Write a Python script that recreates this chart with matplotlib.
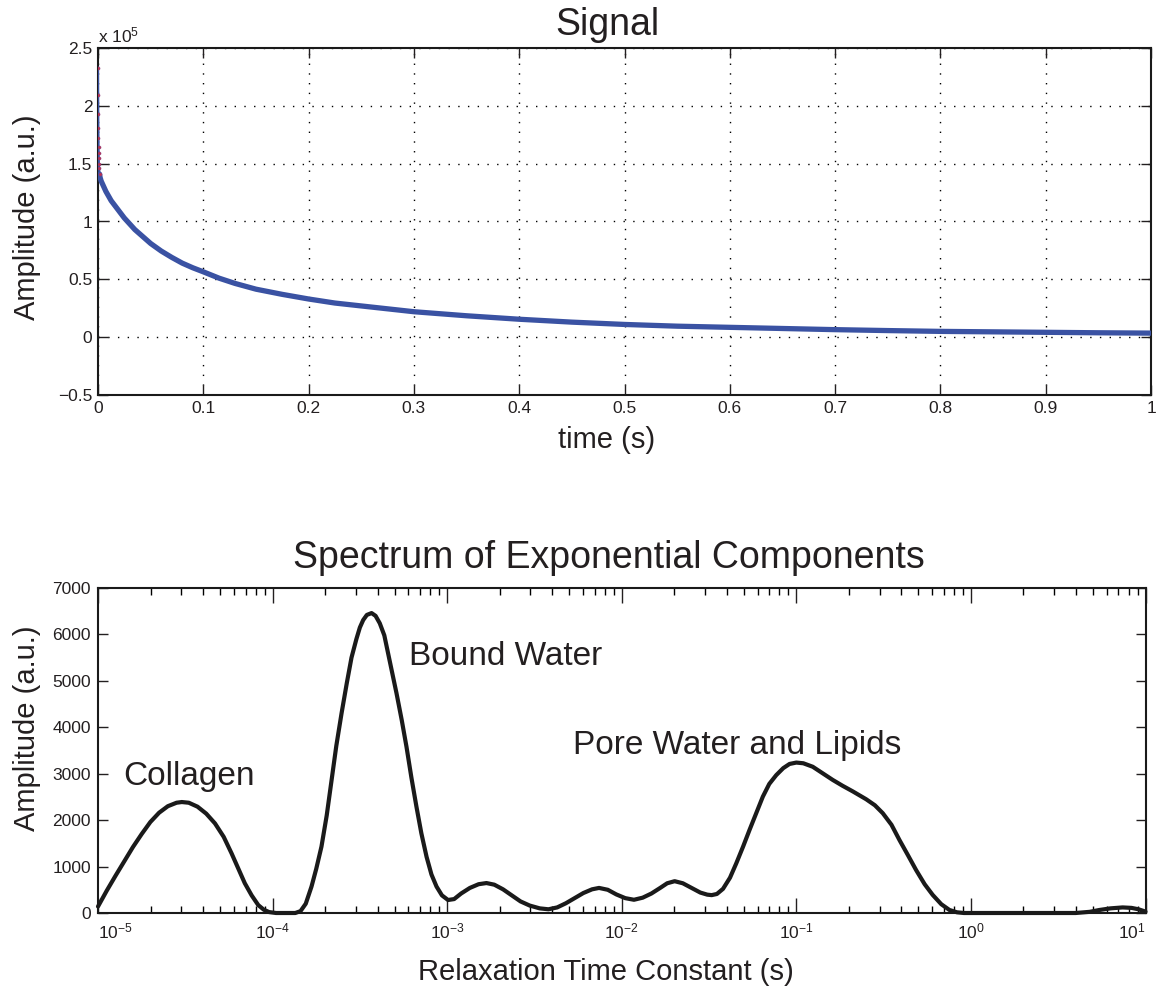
import numpy as np
import matplotlib
matplotlib.use("Agg")
import matplotlib.pyplot as plt
from matplotlib.ticker import LogLocator, NullFormatter

plt.rcParams['font.family'] = ['Liberation Sans', 'DejaVu Sans']
plt.rcParams['mathtext.fontset'] = 'custom'
plt.rcParams['mathtext.rm'] = 'Liberation Sans'
plt.rcParams['mathtext.it'] = 'Liberation Sans:italic'
plt.rcParams['mathtext.bf'] = 'Liberation Sans:bold'

# ---------------- data ----------------
signal_time = [0, 0.0001, 0.0002, 0.0003, 0.0004, 0.0005, 0.0006, 0.0007, 0.0008,
               0.001, 0.0015, 0.002, 0.003, 0.004, 0.005, 0.0075, 0.01, 0.0125, 0.015,
               0.0175, 0.02, 0.025, 0.03, 0.035, 0.04, 0.045, 0.05, 0.06, 0.07, 0.08,
               0.09, 0.1, 0.115, 0.13, 0.15, 0.175, 0.2, 0.225, 0.25, 0.275, 0.3, 0.35,
               0.4, 0.45, 0.5, 0.55, 0.6, 0.65, 0.7, 0.75, 0.8, 0.85, 0.9, 0.95, 1.0]
signal_amp = [233000, 209000, 193000, 181000, 172000, 164000, 159000, 155000, 150000,
              146000, 141000, 138000, 135000, 133000, 131000, 126000, 122000, 118000, 115000,
              112000, 109000, 103000, 98000, 93000, 89000, 85000, 81000, 74500, 69000, 64000,
              60000, 56500, 51000, 46500, 41500, 37000, 33000, 29500, 27000, 24500, 22000, 18500,
              15500, 13000, 11000, 9500, 8500, 7500, 6500, 5700, 5000, 4600, 4200, 3800, 3500]
n_early_samples = 11

spectrum_log10_tau = [
    -5.0, -4.95, -4.9, -4.85, -4.8, -4.75, -4.7, -4.65, -4.6, -4.55, -4.52, -4.48, -4.43,
    -4.38, -4.33, -4.28, -4.235, -4.19, -4.159, -4.12, -4.082, -4.05, -4.02, -3.98, -3.87,
    -3.84, -3.81, -3.777, -3.75, -3.72, -3.69, -3.662, -3.635, -3.605, -3.575, -3.548, -3.52,
    -3.5, -3.481, -3.46, -3.433, -3.41, -3.386, -3.36, -3.338, -3.315, -3.29, -3.26, -3.233,
    -3.205, -3.176, -3.148, -3.118, -3.09, -3.061, -3.03, -2.995, -2.96, -2.92, -2.87, -2.82,
    -2.775, -2.73, -2.68, -2.63, -2.58, -2.527, -2.47, -2.42, -2.37, -2.32, -2.27, -2.22,
    -2.17, -2.13, -2.08, -2.031, -1.98, -1.93, -1.88, -1.83, -1.78, -1.74, -1.697, -1.65,
    -1.6, -1.55, -1.51, -1.485, -1.455, -1.42, -1.38, -1.344, -1.305, -1.268, -1.23, -1.192,
    -1.155, -1.115, -1.075, -1.039, -1.0, -0.96, -0.906, -0.85, -0.791, -0.735, -0.677, -0.6,
    -0.55, -0.505, -0.455, -0.409, -0.36, -0.314, -0.265, -0.219, -0.17, -0.123, -0.08,
    -0.04, 0.6, 0.68, 0.736, 0.8, 0.869, 0.92, 0.96, 1.0]
spectrum_amp = [
    140, 480, 800, 1110, 1420, 1700, 1960, 2160, 2300, 2375, 2390, 2375, 2290,
    2140, 1930, 1640, 1285, 900, 640, 380, 170, 70, 20, 0, 0,
    40, 200, 570, 950, 1430, 2100, 2865, 3600, 4300, 4950, 5500, 5900,
    6150, 6310, 6420, 6460, 6400, 6240, 5980, 5590, 5180, 4730, 4150, 3580,
    2920, 2290, 1720, 1210, 830, 570, 380, 280, 300, 420, 540, 620,
    645, 610, 510, 380, 250, 160, 100, 80, 120, 210, 320, 430,
    510, 540, 500, 400, 320, 285, 330, 420, 540, 640, 685, 640,
    540, 440, 395, 385, 410, 520, 760, 1070, 1430, 1790, 2150, 2505,
    2780, 2970, 3120, 3210, 3240, 3225, 3150, 3010, 2865, 2740, 2620, 2450,
    2320, 2150, 1900, 1570, 1240, 925, 620, 390, 190, 65, 15,
    0, 0, 25, 65, 100, 120, 110, 80, 30]

signal_xticks = [0, 0.1, 0.2, 0.3, 0.4, 0.5, 0.6, 0.7, 0.8, 0.9, 1.0]
signal_xticklabels = ['0', '0.1', '0.2', '0.3', '0.4', '0.5', '0.6', '0.7', '0.8', '0.9', '1']
signal_yticks = [-50000, 0, 50000, 100000, 150000, 200000, 250000]
signal_yticklabels = ['\u22120.5', '0', '0.5', '1', '1.5', '2', '2.5']
spectrum_xticks = [1e-5, 1e-4, 1e-3, 1e-2, 1e-1, 1e0, 1e1]
spectrum_xticklabels = [r'$10^{-5}$', r'$10^{-4}$', r'$10^{-3}$', r'$10^{-2}$',
                        r'$10^{-1}$', r'$10^{0}$', r'$10^{1}$']
spectrum_yticks = [0, 1000, 2000, 3000, 4000, 5000, 6000, 7000]

peak_labels = ['Collagen', 'Bound Water', 'Pore Water and Lipids']
peak_label_log10_tau = [-4.857, -3.218, -2.279]
peak_label_amp = [2757, 5340, 3425]

# ---------------- style ----------------
TXT = '#231f20'
BLUE = '#3a52a3'
W, H = 1158, 990
fig = plt.figure(figsize=(W / 100, H / 100), dpi=100)
fig.patch.set_facecolor('white')


def fx(px):
    return px / W


def fy(py):
    return 1 - py / H


# ---------------- top: signal ----------------
ax1 = fig.add_axes([fx(98), fy(395), fx(1151) - fx(98), fy(48) - fy(395)])
t = np.array(signal_time)
a = np.array(signal_amp, dtype=float)
ax1.plot(t[n_early_samples - 1:], a[n_early_samples - 1:], color=BLUE, lw=3.8,
         solid_capstyle='round', solid_joinstyle='round', zorder=3)
ax1.plot(t[:n_early_samples], a[:n_early_samples], color=BLUE, lw=1.6, zorder=3)
ax1.plot(t[:n_early_samples], a[:n_early_samples], ls='none', marker='o', ms=2.2,
         mfc='#c0304a', mec='#8a3a7a', mew=0.4, zorder=4)
ax1.set_xlim(0, 1)
ax1.set_ylim(-50000, 250000)
ax1.set_xticks(signal_xticks, signal_xticklabels)
ax1.set_yticks(signal_yticks, signal_yticklabels)
ax1.grid(True, color='black', linestyle=(0, (1, 6)), linewidth=1.0)
ax1.tick_params(direction='in', top=True, right=True, length=7, width=1.0,
                labelsize=12.5, colors=TXT, pad=4)
for s in ax1.spines.values():
    s.set_linewidth(1.5)
    s.set_color('#1a1a1a')
ax1.text(0.0, 1 + 6 / 347, r'x 10$^{5}$', transform=ax1.transAxes, ha='left',
         va='baseline', fontsize=12.5, color=TXT)
fig.text(fx(607), fy(35), 'Signal', ha='center', va='baseline', fontsize=27, color=TXT)
fig.text(fx(607), fy(440), 'time (s)', ha='center', va='center', fontsize=21, color=TXT)
fig.text(fx(27), fy(217), 'Amplitude (a.u.)', ha='center', va='center', rotation=90,
         fontsize=21, color=TXT)

# ---------------- bottom: spectrum ----------------
ax2 = fig.add_axes([fx(98), fy(913), fx(1145.5) - fx(98), fy(588) - fy(913)])
tau = 10 ** np.array(spectrum_log10_tau)
ax2.plot(tau, spectrum_amp, color='#1a1a1a', lw=3.0, solid_joinstyle='round',
         solid_capstyle='round', clip_on=False, zorder=3)
ax2.set_xscale('log')
ax2.set_xlim(1e-5, 1e1)
ax2.set_ylim(0, 7000)
ax2.set_xticks(spectrum_xticks, spectrum_xticklabels)
ax2.xaxis.set_minor_locator(LogLocator(base=10, subs=np.arange(2, 10), numticks=100))
ax2.xaxis.set_minor_formatter(NullFormatter())
ax2.set_yticks(spectrum_yticks, [str(v) for v in spectrum_yticks])
ax2.tick_params(axis='x', which='major', direction='in', top=True, length=10.5, width=1.0,
                labelsize=12.5, colors=TXT, pad=6)
ax2.tick_params(axis='x', which='minor', direction='in', top=True, length=5, width=1.0)
ax2.tick_params(axis='y', direction='in', right=True, length=7, width=1.0,
                labelsize=12.5, colors=TXT, pad=5)
labs = ax2.get_xticklabels()
labs[0].set_ha('left')
labs[-1].set_ha('right')
for s in ax2.spines.values():
    s.set_linewidth(1.5)
    s.set_color('#1a1a1a')
for lab, lx, ly in zip(peak_labels, peak_label_log10_tau, peak_label_amp):
    ax2.text(10 ** lx, ly, lab, ha='left', va='baseline', fontsize=24, color=TXT)
fig.text(fx(608.5), fy(568), 'Spectrum of Exponential Components', ha='center',
         va='baseline', fontsize=27, color=TXT)
fig.text(fx(606), fy(972), 'Relaxation Time Constant (s)', ha='center', va='center',
         fontsize=21, color=TXT)
fig.text(fx(27), fy(728), 'Amplitude (a.u.)', ha='center', va='center', rotation=90,
         fontsize=21, color=TXT)

fig.savefig('out.png', dpi=100, facecolor='white')
